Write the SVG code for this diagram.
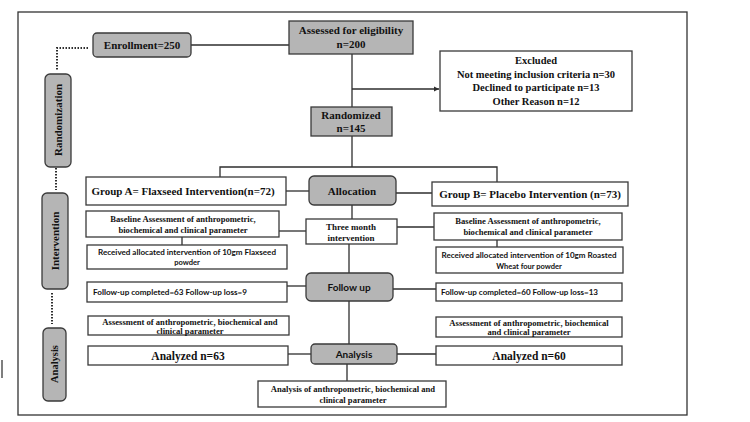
<svg xmlns="http://www.w3.org/2000/svg" width="750" height="422" viewBox="0 0 750 422">
<style>
.bx{fill:#fff;stroke:#3a3a3a;stroke-width:1.3}
.gy{fill:#b5b5b5;stroke:#3a3a3a;stroke-width:1.3}
.ln{fill:none;stroke:#2e2e2e;stroke-width:1.3}
.dt{fill:none;stroke:#2e2e2e;stroke-width:2;stroke-dasharray:1.5 1.5}
.s{font-family:"Liberation Serif","Times New Roman",serif;font-weight:bold;fill:#111;text-anchor:middle}
.a{font-family:Lato,"Liberation Sans",sans-serif;font-weight:bold;fill:#111;text-anchor:middle}
</style>
<defs>
<marker id="ar" markerWidth="6" markerHeight="6" refX="5" refY="3" orient="auto" markerUnits="userSpaceOnUse">
<path d="M0,0.5 L5,3 L0,5.5 z" fill="#2e2e2e"/>
</marker>
</defs>
<rect x="0" y="0" width="750" height="422" fill="#fff"/>
<rect x="18" y="12" width="669" height="403" fill="none" stroke="#333" stroke-width="1.3"/>
<line x1="2" y1="360" x2="2" y2="378" stroke="#555" stroke-width="1.5"/>

<g id="connectors">
<path class="dt" d="M88,48 H57 V71"/>
<path class="dt" d="M56,168 V190"/>
<path class="dt" d="M52,293 V324"/>
<path class="ln" d="M191,45 H289"/>
<path class="ln" d="M352,54 V107"/>
<path class="ln" d="M352,89 H439" marker-end="url(#ar)"/>
<path class="ln" d="M352,136 V167"/>
<path class="ln" d="M220,177 V167 H497 V182"/>
<path class="ln" d="M286,191 H309"/>
<path class="ln" d="M396,193 H432"/>
<path class="ln" d="M352,205 V219"/>
<path class="ln" d="M279,231 H306"/>
<path class="ln" d="M397,227 H434"/>
<path class="ln" d="M182,237 V245"/>
<path class="ln" d="M497,240 V247"/>
<path class="ln" d="M349,244 V273"/>
<path class="ln" d="M287,286 H306"/>
<path class="ln" d="M393,289 H436"/>
<path class="ln" d="M349,301 V344"/>
<path class="ln" d="M288,354 H311"/>
<path class="ln" d="M397,354 H436"/>
<path class="ln" d="M347,364 V381"/>
</g>

<g id="enrollment">
<rect class="gy" x="93" y="33" width="98" height="24" rx="4"/>
<text class="s" x="142" y="49" font-size="11">Enrollment=250</text>
</g>
<g id="assessed">
<rect class="gy" x="289" y="21" width="124" height="33"/>
<text class="s" x="351" y="34" font-size="11">Assessed for eligibility</text>
<text class="s" x="351" y="48" font-size="11">n=200</text>
</g>
<g id="excluded">
<rect class="bx" x="440" y="51" width="192" height="60"/>
<text class="s" x="536" y="64" font-size="10.5">Excluded</text>
<text class="s" x="536" y="78" font-size="10.5">Not meeting inclusion criteria n=30</text>
<text class="s" x="536" y="91" font-size="10.5">Declined to participate n=13</text>
<text class="s" x="536" y="105" font-size="10.5">Other Reason n=12</text>
</g>
<g id="randomized">
<rect class="gy" x="311" y="107" width="81" height="29"/>
<text class="s" x="351" y="119" font-size="11">Randomized</text>
<text class="s" x="351" y="132" font-size="11">n=145</text>
</g>
<g id="lbl-randomization">
<rect class="gy" x="45" y="74" width="26" height="93" rx="5"/>
<text class="s" transform="translate(62,120) rotate(-90)" font-size="11">Randomization</text>
</g>
<g id="lbl-intervention">
<rect class="gy" x="42" y="193" width="26" height="96" rx="5"/>
<text class="s" transform="translate(59,241) rotate(-90)" font-size="11">Intervention</text>
</g>
<g id="lbl-analysis">
<rect class="gy" x="43" y="328" width="23" height="73" rx="5"/>
<text class="s" transform="translate(58,364) rotate(-90)" font-size="10.5">Analysis</text>
</g>
<g id="groupA">
<rect class="bx" x="86" y="177" width="200" height="28"/>
<text class="s" x="183" y="195" font-size="11">Group A= Flaxseed Intervention(n=72)</text>
</g>
<g id="allocation">
<rect class="gy" x="309" y="176" width="87" height="29" rx="5"/>
<text class="s" x="352" y="195" font-size="11">Allocation</text>
</g>
<g id="groupB">
<rect class="bx" x="432" y="182" width="196" height="24"/>
<text class="s" x="530" y="198" font-size="11">Group B= Placebo Intervention (n=73)</text>
</g>
<g id="baselineA">
<rect class="bx" x="86" y="211" width="193" height="26"/>
<text class="s" x="183" y="222" font-size="8.6">Baseline Assessment of anthropometric,</text>
<text class="s" x="183" y="233" font-size="8.6">biochemical and clinical parameter</text>
</g>
<g id="threemonth">
<rect class="bx" x="306" y="219" width="91" height="25"/>
<text class="s" x="351" y="230" font-size="9">Three month</text>
<text class="s" x="351" y="241" font-size="9">intervention</text>
</g>
<g id="baselineB">
<rect class="bx" x="434" y="213" width="188" height="27"/>
<text class="s" x="528" y="224" font-size="8.6">Baseline Assessment of anthropometric,</text>
<text class="s" x="528" y="235" font-size="8.6">biochemical and clinical parameter</text>
</g>
<g id="receivedA">
<rect class="bx" x="87" y="245" width="200" height="24"/>
<text class="a" x="187" y="255" font-size="7.5" textLength="178" lengthAdjust="spacingAndGlyphs">Received allocated intervention of 10gm Flaxseed</text>
<text class="a" x="187" y="265" font-size="7.5">powder</text>
</g>
<g id="receivedB">
<rect class="bx" x="436" y="247" width="187" height="26"/>
<text class="a" x="529" y="258" font-size="7.5" textLength="175" lengthAdjust="spacingAndGlyphs">Received allocated intervention of 10gm Roasted</text>
<text class="a" x="529" y="269" font-size="7.5">Wheat four  powder</text>
</g>
<g id="followup">
<rect class="gy" x="306" y="273" width="87" height="28" rx="5"/>
<text class="a" x="349" y="291" font-size="10">Follow up</text>
</g>
<g id="followupA">
<rect class="bx" x="87" y="282" width="200" height="20"/>
<text class="a" x="93" y="295" font-size="7.5" style="text-anchor:start" textLength="154" lengthAdjust="spacingAndGlyphs">Follow-up completed=63  Follow-up loss=9</text>
</g>
<g id="followupB">
<rect class="bx" x="436" y="283" width="186" height="18"/>
<text class="a" x="441" y="295" font-size="7.5" style="text-anchor:start" textLength="157" lengthAdjust="spacingAndGlyphs">Follow-up completed=60 Follow-up loss=13</text>
</g>
<g id="assessA">
<rect class="bx" x="88" y="316" width="201" height="19"/>
<text class="s" x="190" y="325" font-size="8.6">Assessment of anthropometric, biochemical and</text>
<text class="s" x="190" y="334" font-size="8.6">clinical parameter</text>
</g>
<g id="assessB">
<rect class="bx" x="436" y="317" width="186" height="20"/>
<text class="s" x="529" y="326" font-size="8.6">Assessment of anthropometric, biochemical</text>
<text class="s" x="529" y="335" font-size="8.6">and clinical parameter</text>
</g>
<g id="analyzedA">
<rect class="bx" x="88" y="346" width="200" height="19"/>
<text class="s" x="188" y="360" font-size="11.5">Analyzed n=63</text>
</g>
<g id="analysis">
<rect class="gy" x="311" y="344" width="86" height="20" rx="4"/>
<text class="a" x="354" y="358" font-size="10">Analysis</text>
</g>
<g id="analyzedB">
<rect class="bx" x="436" y="346" width="186" height="19"/>
<text class="s" x="529" y="360" font-size="11.5">Analyzed n=60</text>
</g>
<g id="final">
<rect class="bx" x="258" y="381" width="188" height="26"/>
<text class="s" x="353" y="392" font-size="8.6">Analysis of anthropometric, biochemical and</text>
<text class="s" x="353" y="403" font-size="8.6">clinical parameter</text>
</g>
</svg>
